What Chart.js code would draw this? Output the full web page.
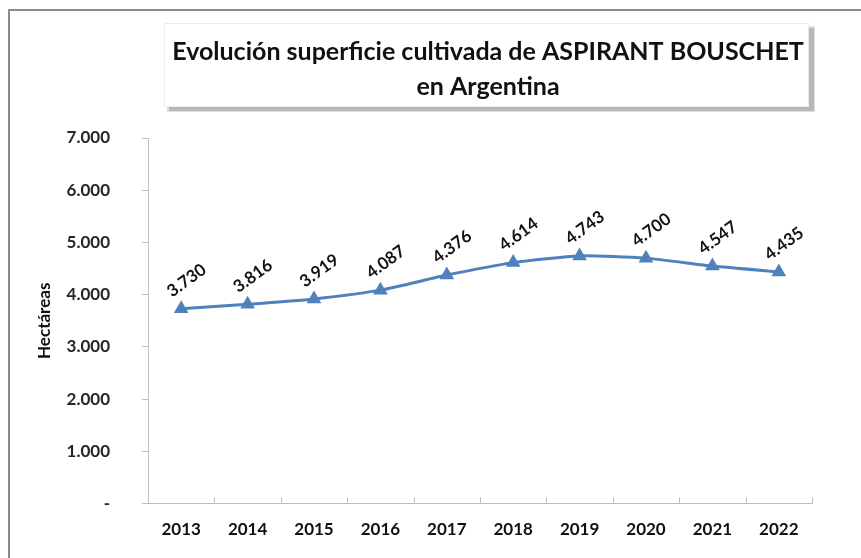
<!DOCTYPE html>
<html>
<head>
<meta charset="utf-8">
<script src="https://cdn.jsdelivr.net/npm/chart.js@4.4.1/dist/chart.umd.min.js"></script>
<style>
  html, body { margin: 0; padding: 0; background: #fff; }
  #wrap { position: relative; width: 861px; height: 558px; overflow: hidden; }
  #frame { position: absolute; left: 8px; top: 9px; width: 900px; height: 600px;
           border-left: 2px solid #8a8a8a; border-top: 2px solid #8a8a8a; }
  canvas { position: absolute; left: 0; top: 0; }
</style>
</head>
<body>
<div id="wrap">
  <div id="frame"></div>
  <canvas id="c" width="861" height="558"></canvas>
</div>
<script>
const years = ['2013','2014','2015','2016','2017','2018','2019','2020','2021','2022'];
const hectares = [3730, 3816, 3919, 4087, 4376, 4614, 4743, 4700, 4547, 4435];
const yTicks = [0, 1000, 2000, 3000, 4000, 5000, 6000, 7000];
const titleLines = ['Evolución superficie cultivada de ASPIRANT BOUSCHET', 'en Argentina'];
const yTitle = 'Hectáreas';

const FONT = 'Lato, "Open Sans", sans-serif';

function fmt(v) {
  if (v === 0) return '-';
  return v.toLocaleString('de-DE');
}

const titleBox = {
  id: 'titleBox',
  beforeDraw(chart) {
    const ctx = chart.ctx;
    ctx.save();
    ctx.fillStyle = 'rgba(0,0,0,0.18)';
    ctx.fillRect(169, 28, 645, 83);
    ctx.fillStyle = 'rgba(0,0,0,0.12)';
    ctx.fillRect(167, 26, 648, 86);
    ctx.fillStyle = '#ffffff';
    ctx.fillRect(164, 23, 645, 84);
    ctx.strokeStyle = '#ececec';
    ctx.lineWidth = 1;
    ctx.strokeRect(164.5, 23.5, 644, 83);
    ctx.fillStyle = '#111';
    ctx.font = 'bold 25px ' + FONT;
    ctx.textAlign = 'center';
    ctx.textBaseline = 'middle';
    ctx.fillText(titleLines[0], 488, 52);
    ctx.fillText(titleLines[1], 488, 87);
    ctx.restore();
  }
};

const xTicksInside = {
  id: 'xTicksInside',
  afterDraw(chart) {
    const xs = chart.scales.x;
    const ctx = chart.ctx;
    const n = years.length;
    const y0 = xs.top;
    ctx.save();
    ctx.strokeStyle = '#bfbfbf';
    ctx.lineWidth = 1;
    ctx.beginPath();
    for (let i = 0; i <= n; i++) {
      let x;
      if (i === 0) x = xs.left;
      else if (i === n) x = xs.right;
      else x = (xs.getPixelForValue(i - 1) + xs.getPixelForValue(i)) / 2;
      x = Math.round(x) + 0.5;
      ctx.moveTo(x, y0);
      ctx.lineTo(x, y0 - 6);
    }
    ctx.stroke();
    ctx.restore();
  }
};

const dataLabels = {
  id: 'dataLabels',
  afterDatasetsDraw(chart) {
    const ctx = chart.ctx;
    const meta = chart.getDatasetMeta(0);
    ctx.save();
    ctx.fillStyle = '#111';
    ctx.font = 'bold 17px ' + FONT;
    ctx.textAlign = 'left';
    ctx.textBaseline = 'alphabetic';
    meta.data.forEach((pt, i) => {
      ctx.save();
      ctx.translate(pt.x - 9, pt.y - 11);
      ctx.rotate(-36 * Math.PI / 180);
      ctx.fillText(fmt(hectares[i]), 0, 0);
      ctx.restore();
    });
    ctx.restore();
  }
};

new Chart(document.getElementById('c'), {
  type: 'line',
  data: {
    labels: years,
    datasets: [{
      data: hectares,
      borderColor: '#4f81bd',
      backgroundColor: '#4f81bd',
      borderWidth: 3,
      pointStyle: 'triangle',
      pointRadius: 5.5,
      pointHoverRadius: 5.5,
      tension: 0.2,
      fill: false
    }]
  },
  options: {
    responsive: false,
    animation: false,
    layout: { padding: { top: 138, right: 49, bottom: 10, left: 0 } },
    plugins: { legend: { display: false }, title: { display: false }, tooltip: { enabled: false } },
    scales: {
      x: {
        offset: true,
        grid: { display: false },
        border: { display: true, color: '#bfbfbf', width: 1 },
        ticks: { color: '#111', font: { family: FONT, size: 17, weight: 'bold' }, padding: 8, maxRotation: 0 }
      },
      y: {
        min: 0, max: 7000,
        afterFit(s) { s.width = 148; },
        afterBuildTicks(s) { s.ticks = yTicks.map(v => ({ value: v })); },
        grid: { display: true, drawOnChartArea: false, color: '#bfbfbf', tickLength: 6 },
        border: { color: '#bfbfbf', width: 1 },
        ticks: {
          color: '#262626', font: { family: FONT, size: 17, weight: 'bold' }, padding: 32,
          callback: (v) => fmt(v)
        },
        title: { display: true, text: yTitle, color: '#111', font: { family: FONT, size: 17, weight: 'bold' }, padding: { top: 34, bottom: 0 } }
      }
    }
  },
  plugins: [titleBox, xTicksInside, dataLabels]
});
</script>
</body>
</html>
